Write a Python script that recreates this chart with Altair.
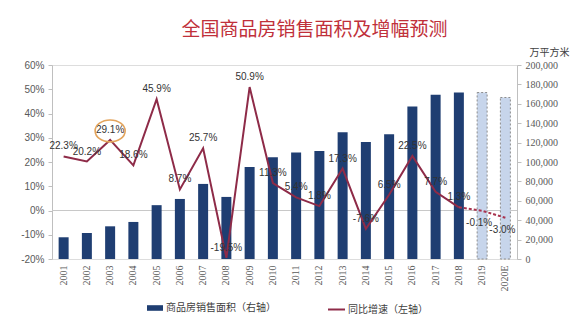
import altair as alt
import pandas as pd

years = ["2001", "2002", "2003", "2004", "2005", "2006", "2007", "2008", "2009", "2010",
         "2011", "2012", "2013", "2014", "2015", "2016", "2017", "2018", "2019", "2020E"]
area = [22400, 26800, 33700, 38200, 55500, 61900, 77400, 64000, 94800, 104800,
        109900, 111300, 130600, 120600, 128500, 157300, 169400, 171700, 171600, 166500]
growth = [22.3, 20.2, 29.1, 18.6, 45.9, 8.7, 25.7, -19.5, 50.9, 11.3,
          5.4, 1.8, 17.3, -7.6, 6.5, 22.5, 7.7, 1.3, -0.1, -3.0]
forecast = [False] * 18 + [True, True]
labels = [f"{g:.1f}%" for g in growth]

bar_name = "商品房销售面积（右轴）"
line_name = "同比增速（左轴）"
title_text = "全国商品房销售面积及增幅预测"
unit_text = "万平方米"

# left axis spans -20%..60%, right axis 0..200,000 -> 0% sits at 50,000 on the right scale
left_domain = [-20, 60]
right_domain = [0, 200000]
zero_on_right = right_domain[0] + (0 - left_domain[0]) / (left_domain[1] - left_domain[0]) * (right_domain[1] - right_domain[0])

df = pd.DataFrame({
    "year": years, "area": area, "growth": growth, "label": labels,
    "forecast": forecast, "bar_series": bar_name, "line_series": line_name,
})

CJK = "Noto Sans CJK SC"
AXIS_COLOR = "#bfbfbf"
LABEL_COLOR = "#595959"

x_enc = alt.X(
    "year:N", sort=years,
    scale=alt.Scale(paddingInner=0.57, paddingOuter=0.285),
    axis=alt.Axis(title=None, labelAngle=270, labelAlign="right", labelBaseline="middle",
                  labelPadding=6, domain=False, ticks=False, labelFont="Liberation Serif",
                  labelFontSize=10, labelColor=LABEL_COLOR),
)

right_axis = alt.Axis(
    orient="right", values=list(range(0, 200001, 20000)), format=",d", grid=False,
    title=unit_text, titleAngle=0, titleX=32, titleY=-13, titleAlign="center",
    titleBaseline="middle", titleFont=CJK, titleFontSize=10, titleFontWeight="normal",
    titleColor="#404040", labelFont="Liberation Serif", labelFontSize=10,
    labelColor=LABEL_COLOR, domainColor=AXIS_COLOR, tickColor=AXIS_COLOR, tickSize=4,
    labelPadding=4,
)
right_scale = alt.Scale(domain=right_domain, nice=False)
y_right = alt.Y("area:Q", scale=right_scale, axis=right_axis)

left_axis = alt.Axis(
    orient="left", values=list(range(-20, 61, 10)), labelExpr="datum.value + '%'",
    grid=False, title=None, labelFont="Liberation Sans", labelFontSize=10,
    labelColor=LABEL_COLOR, domainColor=AXIS_COLOR, tickColor=AXIS_COLOR, tickSize=4,
    labelPadding=4,
)
y_left = alt.Y("growth:Q", scale=alt.Scale(domain=left_domain, nice=False), axis=left_axis)

base = alt.Chart(df)

zero_rule = base.mark_rule(color="#c8c8c8", strokeWidth=1).encode(
    y=alt.YDatum(zero_on_right, scale=right_scale, axis=right_axis)
)
bars_actual = base.transform_filter("!datum.forecast").mark_bar().encode(
    x=x_enc, y=y_right,
    color=alt.Color("bar_series:N", scale=alt.Scale(domain=[bar_name], range=["#1F3E72"]),
                    legend=alt.Legend(orient="none", legendX=95, legendY=235, title=None,
                                      padding=0, symbolType="M-1,-0.35H1V0.35H-1Z",
                                      symbolSize=256, symbolStrokeWidth=0, labelOffset=3,
                                      labelFont=CJK, labelFontSize=10, labelColor="#404040")),
)
bars_fc = base.transform_filter("datum.forecast").mark_bar(
    fill="#C7D5EB", stroke="#8c8c8c", strokeDash=[2, 2], strokeWidth=1
).encode(x=x_enc, y=y_right)

bar_group = alt.layer(zero_rule, bars_actual, bars_fc)

line_solid = base.transform_filter("!datum.forecast").mark_line(strokeWidth=2).encode(
    x=x_enc, y=y_left,
    stroke=alt.Stroke("line_series:N", scale=alt.Scale(domain=[line_name], range=["#8E2B48"]),
                      legend=alt.Legend(orient="none", legendX=275, legendY=235, title=None,
                                        padding=0, symbolType="stroke", symbolSize=289,
                                        symbolStrokeWidth=2, labelOffset=2, labelFont=CJK,
                                        labelFontSize=10, labelColor="#404040")),
)
line_dash = base.transform_filter("datum.year >= '2018'").mark_line(
    strokeWidth=2, strokeDash=[3, 2], color="#A8344F"
).encode(x=x_enc, y=y_left)

text_above = base.transform_filter("!datum.forecast").mark_text(
    dy=-10, fontSize=10, font="Liberation Sans", color="#333333"
).encode(x=x_enc, y=y_left, text="label:N")
text_below = base.transform_filter("datum.forecast").mark_text(
    dy=12, dx=-3, fontSize=10, font="Liberation Sans", color="#333333"
).encode(x=x_enc, y=y_left, text="label:N")

ellipse = base.transform_filter("datum.year == '2003'").mark_point(
    shape="M-1,0A1,0.73,0,1,0,1,0A1,0.73,0,1,0,-1,0Z", size=900, filled=False,
    stroke="#E3A45C", strokeWidth=1.6, yOffset=-9, opacity=1
).encode(x=x_enc, y=y_left)

line_group = alt.layer(line_solid, line_dash, text_above, text_below, ellipse)

chart = alt.layer(bar_group, line_group).resolve_scale(y="independent").properties(
    width=465, height=194,
    title=alt.TitleParams(title_text, font=CJK, fontSize=19, fontWeight="normal",
                          color="#C0303A", anchor="middle", frame="group", dx=30, offset=7),
    autosize=alt.AutoSizeParams(type="none"),
    padding={"left": 52, "top": 65, "right": 66, "bottom": 65},
).configure_view(stroke=None).configure(background="white")

chart.save("out.html", embed_options={"renderer": "svg", "actions": False})
